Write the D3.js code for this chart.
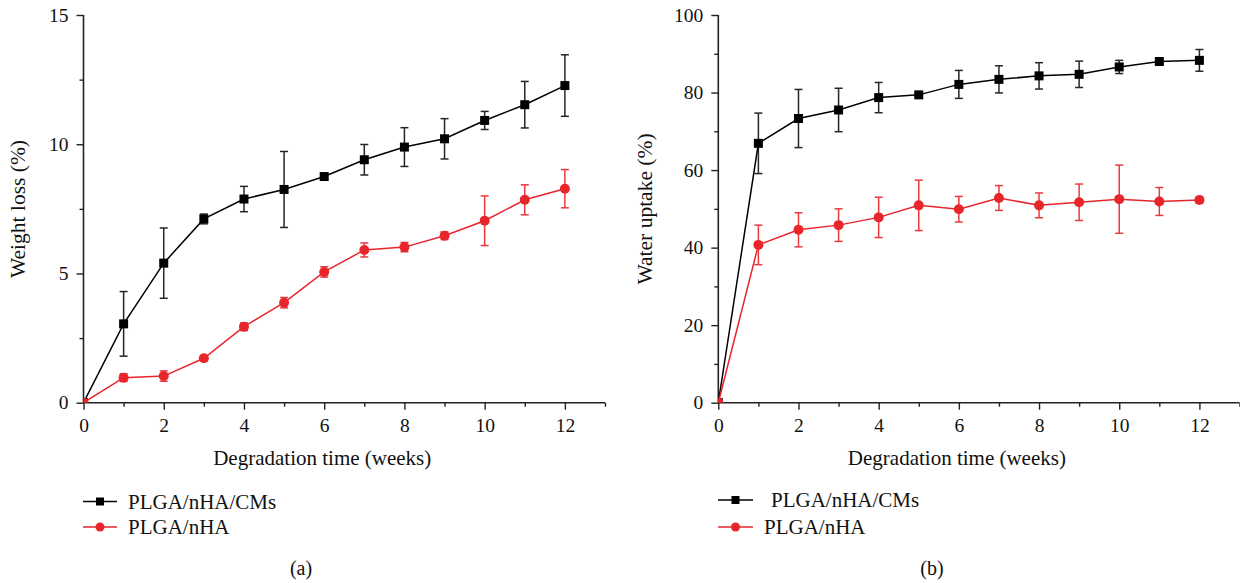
<!DOCTYPE html>
<html>
<head>
<meta charset="utf-8">
<script src="https://cdn.jsdelivr.net/npm/d3@7"></script>
<style>
  html, body { margin: 0; padding: 0; background: #fff; }
  svg { display: block; }
  text { font-family: "Liberation Serif", "Times New Roman", "DejaVu Serif", serif; fill: #111; }
</style>
</head>
<body>
<svg id="chart" width="1240" height="583"></svg>
<script>
// Degradation study: weight loss and water uptake over 12 weeks
const weeks = [0, 1, 2, 3, 4, 5, 6, 7, 8, 9, 10, 11, 12];
const seriesNames = ["PLGA/nHA/CMs", "PLGA/nHA"];

const lossComposite    = [0, 3.05, 5.40, 7.11, 7.88, 8.25, 8.75, 9.40, 9.89, 10.21, 10.92, 11.53, 12.27];
const lossCompositeErr = [0, 1.25, 1.36, 0.19, 0.49, 1.47, 0.08, 0.59, 0.75, 0.78, 0.35, 0.90, 1.19];
const lossBase         = [0, 0.97, 1.03, 1.72, 2.94, 3.87, 5.06, 5.91, 6.02, 6.46, 7.04, 7.85, 8.28];
const lossBaseErr      = [0, 0.15, 0.20, 0.10, 0.15, 0.20, 0.20, 0.27, 0.18, 0.15, 0.96, 0.58, 0.74];

const uptakeComposite    = [0, 66.9, 73.3, 75.5, 78.7, 79.4, 82.1, 83.4, 84.3, 84.7, 86.6, 88.0, 88.3];
const uptakeCompositeErr = [0, 7.8, 7.5, 5.6, 3.9, 0.5, 3.6, 3.5, 3.4, 3.4, 1.7, 0.5, 2.8];
const uptakeBase         = [0, 40.7, 44.6, 45.8, 47.8, 50.9, 49.9, 52.8, 50.9, 51.7, 52.5, 51.9, 52.3];
const uptakeBaseErr      = [0, 5.1, 4.4, 4.2, 5.2, 6.5, 3.3, 3.2, 3.2, 4.7, 8.8, 3.6, 0.8];

const xMajorTicks = [0, 2, 4, 6, 8, 10, 12];
const xMinorTicks = [1, 3, 5, 7, 9, 11, 13];
const lossMajorTicks = [0, 5, 10, 15];
const lossMinorTicks = [2.5, 7.5, 12.5];
const uptakeMajorTicks = [0, 20, 40, 60, 80, 100];
const uptakeMinorTicks = [10, 30, 50, 70, 90];

const BLACK = "#000000";
const RED = "#e8252a";

const svg = d3.select("#chart");

function panel(cfg) {
  const x = d3.scaleLinear().domain([0, 13]).range([cfg.x0, cfg.x1]);
  const y = d3.scaleLinear().domain(cfg.yDomain).range([402.7, 15]);
  const g = svg.append("g");

  // axes: labelled major ticks plus unlabelled minor ticks
  const xAxis = g.append("g").attr("transform", `translate(0,${y(0)})`)
    .call(d3.axisBottom(x).tickValues(xMajorTicks).tickSize(7).tickPadding(8).tickFormat(d3.format("d")));
  g.append("g").attr("transform", `translate(0,${y(0)})`)
    .call(d3.axisBottom(x).tickValues(xMinorTicks).tickSize(4).tickFormat(""))
    .select(".domain").remove();
  const yAxis = g.append("g").attr("transform", `translate(${x(0)},0)`)
    .call(d3.axisLeft(y).tickValues(cfg.majorTicks).tickSize(7).tickPadding(8).tickFormat(d3.format("d")));
  g.append("g").attr("transform", `translate(${x(0)},0)`)
    .call(d3.axisLeft(y).tickValues(cfg.minorTicks).tickSize(4).tickFormat(""))
    .select(".domain").remove();

  g.selectAll(".domain").attr("stroke", "#222").attr("stroke-width", 1.6);
  g.selectAll(".tick line").attr("stroke", "#222").attr("stroke-width", 1.4);
  g.selectAll(".tick text").style("font-family", '"Liberation Serif", "Times New Roman", serif')
    .style("font-size", "19.5px").attr("fill", "#111");
  // plain domain lines without end caps
  xAxis.select(".domain").attr("d", `M${x(0)},0H${x(13)}`);
  yAxis.select(".domain").attr("d", `M0,${y(cfg.yDomain[1])}V${y(0)}`);

  // axis titles
  g.append("text").attr("x", (x(0) + x(13)) / 2 - 22).attr("y", 465)
    .attr("text-anchor", "middle").style("font-size", "21px").text("Degradation time (weeks)");
  g.append("text")
    .attr("transform", `translate(${cfg.yTitleX},${209}) rotate(-90)`)
    .attr("text-anchor", "middle").style("font-size", "21.5px").text(cfg.yTitle);

  // clip to plotting area
  const clipId = "clip-" + cfg.id;
  svg.append("clipPath").attr("id", clipId).append("rect")
    .attr("x", x(0)).attr("y", 0).attr("width", x(13) - x(0)).attr("height", y(0));
  const plot = g.append("g").attr("clip-path", `url(#${clipId})`);

  const series = [
    { vals: cfg.a, err: cfg.aErr, color: BLACK, shape: "square" },
    { vals: cfg.b, err: cfg.bErr, color: RED, shape: "circle" }
  ];

  series.forEach(s => {
    const pts = weeks.map((w, i) => ({ w, v: s.vals[i], e: s.err[i] }));
    // error bars
    const eb = plot.append("g").attr("stroke", s.color).attr("stroke-width", 1.5).attr("opacity", s.color === RED ? 0.9 : 0.85);
    pts.filter(p => p.e > 0).forEach(p => {
      const cx = x(p.w), yt = y(p.v + p.e), yb = y(p.v - p.e);
      eb.append("line").attr("x1", cx).attr("x2", cx).attr("y1", yt).attr("y2", yb);
      eb.append("line").attr("x1", cx - 4).attr("x2", cx + 4).attr("y1", yt).attr("y2", yt);
      eb.append("line").attr("x1", cx - 4).attr("x2", cx + 4).attr("y1", yb).attr("y2", yb);
    });
    // connecting line
    plot.append("path").datum(pts)
      .attr("fill", "none").attr("stroke", s.color).attr("stroke-width", 1.5)
      .attr("d", d3.line().x(p => x(p.w)).y(p => y(p.v)));
    // markers
    if (s.shape === "square") {
      plot.selectAll(null).data(pts).join("rect")
        .attr("x", p => x(p.w) - 4.5).attr("y", p => y(p.v) - 4.5)
        .attr("width", 9).attr("height", 9).attr("fill", s.color);
    } else {
      plot.selectAll(null).data(pts).join("circle")
        .attr("cx", p => x(p.w)).attr("cy", p => y(p.v)).attr("r", 5).attr("fill", s.color);
    }
  });

  // legend
  const lg = svg.append("g");
  cfg.legend.forEach((row, i) => {
    const color = i === 0 ? BLACK : RED;
    lg.append("line").attr("x1", row.lx0).attr("x2", row.lx1).attr("y1", row.y).attr("y2", row.y)
      .attr("stroke", color).attr("stroke-width", 1.6);
    const mx = (row.lx0 + row.lx1) / 2;
    if (i === 0) {
      lg.append("rect").attr("x", mx - 4).attr("y", row.y - 4).attr("width", 8).attr("height", 8).attr("fill", color);
    } else {
      lg.append("circle").attr("cx", mx).attr("cy", row.y).attr("r", 4.5).attr("fill", color);
    }
    lg.append("text").attr("x", row.tx).attr("y", row.y + 7).style("font-size", "21px").text(seriesNames[i]);
  });

  svg.append("text").attr("x", cfg.labelX).attr("y", 575).attr("text-anchor", "middle")
    .style("font-size", "20px").text(cfg.label);
}

panel({
  id: "a", x0: 83.5, x1: 605, yDomain: [0, 15],
  majorTicks: lossMajorTicks, minorTicks: lossMinorTicks,
  yTitle: "Weight loss (%)", yTitleX: 25,
  a: lossComposite, aErr: lossCompositeErr, b: lossBase, bErr: lossBaseErr,
  legend: [
    { lx0: 83, lx1: 117, y: 501.5, tx: 128 },
    { lx0: 83, lx1: 117, y: 527, tx: 128 }
  ],
  labelX: 301, label: "(a)"
});

panel({
  id: "b", x0: 718.3, x1: 1239.5, yDomain: [0, 100],
  majorTicks: uptakeMajorTicks, minorTicks: uptakeMinorTicks,
  yTitle: "Water uptake (%)", yTitleX: 652,
  a: uptakeComposite, aErr: uptakeCompositeErr, b: uptakeBase, bErr: uptakeBaseErr,
  legend: [
    { lx0: 718, lx1: 753, y: 500, tx: 771 },
    { lx0: 718, lx1: 753, y: 527, tx: 764 }
  ],
  labelX: 932, label: "(b)"
});
</script>
</body>
</html>
